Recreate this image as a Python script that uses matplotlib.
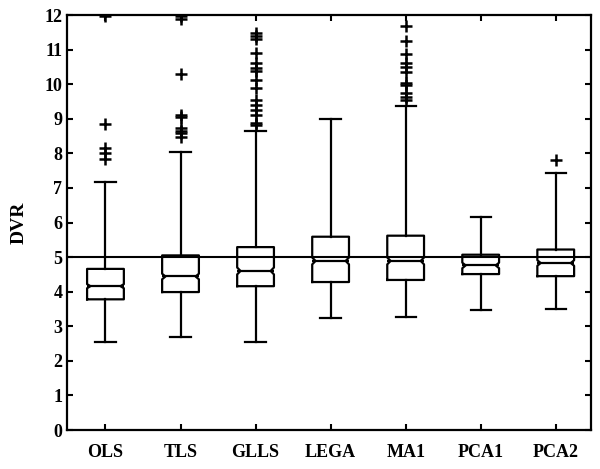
import matplotlib.pyplot as plt

plt.rcParams['font.family'] = ['Liberation Serif', 'DejaVu Serif']
plt.rcParams['font.weight'] = 'bold'

# Data
methods = ['OLS', 'TLS', 'GLLS', 'LEGA', 'MA1', 'PCA1', 'PCA2']
medians = [4.16, 4.44, 4.60, 4.89, 4.89, 4.76, 4.83]
q1 = [3.78, 3.99, 4.16, 4.28, 4.34, 4.51, 4.45]
q3 = [4.66, 5.05, 5.29, 5.59, 5.62, 5.07, 5.22]
whis_lo = [2.54, 2.68, 2.54, 3.23, 3.27, 3.48, 3.51]
whis_hi = [7.18, 8.05, 8.66, 8.99, 9.38, 6.17, 7.42]
notch_half = [0.06, 0.08, 0.10, 0.10, 0.10, 0.08, 0.08]
fliers = [
    [7.85, 8.0, 8.15, 8.85, 11.97],
    [8.48, 8.58, 8.65, 8.73, 9.05, 9.11, 10.3, 11.89, 11.97],
    [8.82, 8.87, 9.11, 9.25, 9.4, 9.54, 9.88, 10.12, 10.37, 10.46,
     10.6, 10.91, 11.30, 11.38, 11.48],
    [],
    [9.54, 9.64, 9.74, 9.98, 10.03, 10.36, 10.5, 10.6, 10.87, 11.26, 11.69],
    [],
    [7.81],
]

stats = []
for i, name in enumerate(methods):
    stats.append({
        'label': name,
        'med': medians[i],
        'q1': q1[i],
        'q3': q3[i],
        'whislo': whis_lo[i],
        'whishi': whis_hi[i],
        'cilo': medians[i] - notch_half[i],
        'cihi': medians[i] + notch_half[i],
        'fliers': fliers[i],
    })

fig = plt.figure(figsize=(6.0, 4.69), dpi=100)
ax = fig.add_axes([0.112, 0.083, 0.873, 0.885])

lw = 1.6
res = ax.bxp(stats, positions=range(1, 8), widths=0.49, capwidths=0.27,
             shownotches=True,
             boxprops=dict(color='black', linewidth=lw),
             medianprops=dict(color='black', linewidth=lw),
             whiskerprops=dict(color='black', linewidth=lw),
             capprops=dict(color='black', linewidth=lw),
             flierprops=dict(marker='+', markeredgecolor='black',
                             markersize=8, markeredgewidth=1.8))

# shallower notches, median across the full box
for box, med in zip(res['boxes'], res['medians']):
    x = list(box.get_xdata())
    left, right = x[0], x[1]
    w = right - left
    x[3] = right - 0.09 * w
    x[8] = left + 0.09 * w
    box.set_xdata(x)
    med.set_xdata([left, right])

ax.axhline(5, color='black', linewidth=1.5)

ax.set_xlim(0.49, 7.47)
ax.set_ylim(0, 12)
ax.set_yticks(range(0, 13))
ax.set_ylabel('DVR', fontsize=14, fontweight='bold', labelpad=12)
ax.tick_params(axis='both', direction='in', length=4, width=1.5,
               labelsize=13, top=True, right=True)
ax.tick_params(axis='x', pad=10)
for s in ax.spines.values():
    s.set_linewidth(1.6)

fig.savefig('out.png', dpi=100)
